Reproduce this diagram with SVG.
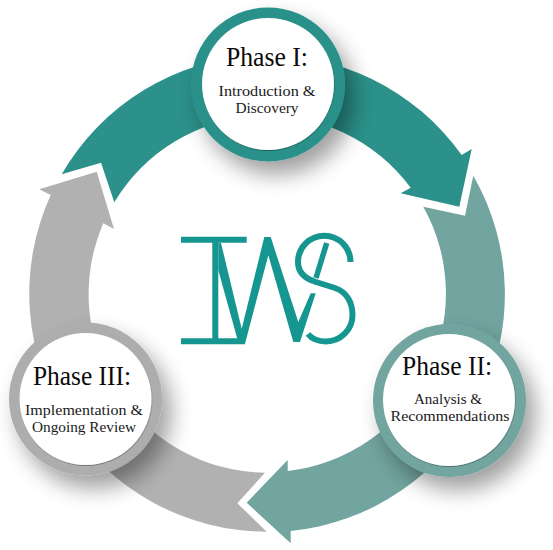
<svg xmlns="http://www.w3.org/2000/svg" width="553" height="550" viewBox="0 0 553 550">
<defs>
<filter id="sh" x="-40%" y="-40%" width="190%" height="190%"><feGaussianBlur in="SourceAlpha" stdDeviation="11"/><feOffset dx="9" dy="13"/><feComponentTransfer><feFuncA type="linear" slope="0.38"/></feComponentTransfer><feMerge><feMergeNode/><feMergeNode in="SourceGraphic"/></feMerge></filter>
<filter id="in" x="-10%" y="-10%" width="120%" height="120%"><feDropShadow dx="0.4" dy="0.8" stdDeviation="0.7" flood-color="#000" flood-opacity="0.4"/></filter>
</defs>
<style>
.t{font-family:"Liberation Serif",serif;fill:#0a0a0a;text-anchor:middle}
.h{font-size:27px}.s{font-size:14.5px;fill:#1a1a1a}
.inner{fill:#fff;filter:url(#in)}
.lg{fill:none;stroke:#159690}
</style>
<g id="connectors">
<path id="arrow1" fill="#2b918a" d="M61.7 174.3 A238 238 0 0 1 461.7 155 L471.7 149 L459.3 206.7 L400.7 193.3 L410.7 187.7 A178.5 178.5 0 0 0 114.3 202.3 L101 162.7 Z"/>
<path id="arrow2" fill="#72a4a0" d="M473.3 175.7 A238 238 0 0 1 290.7 531 L290.7 543.3 L246.7 502.7 L287.7 460 L287.7 471 A178.5 178.5 0 0 0 423.3 206.7 L465 215.7 Z"/>
<path id="arrow3" fill="#b1b1b1" d="M266.7 531.7 A238 238 0 0 1 50.7 195 L39.3 189.3 L96.7 171.7 L114 229 L103.3 223.3 A178.5 178.5 0 0 0 265 472.7 L237.3 503.3 Z"/>
</g>
<g id="node-phase1">
<circle cx="268" cy="84.5" r="77" fill="#2b918a" filter="url(#sh)"/>
<circle class="inner" cx="268" cy="84" r="66"/>
<text class="t h" x="267" y="66" textLength="82" lengthAdjust="spacingAndGlyphs">Phase I:</text>
<text class="t s" x="267" y="96" textLength="97" lengthAdjust="spacingAndGlyphs">Introduction &amp;</text>
<text class="t s" x="267" y="113" textLength="63" lengthAdjust="spacingAndGlyphs">Discovery</text>
</g>
<g id="node-phase2">
<circle cx="449.5" cy="400.5" r="76.5" fill="#72a4a0" filter="url(#sh)"/>
<circle class="inner" cx="449" cy="400" r="66"/>
<text class="t h" x="447" y="375" textLength="90" lengthAdjust="spacingAndGlyphs">Phase II:</text>
<text class="t s" x="448" y="404" textLength="68" lengthAdjust="spacingAndGlyphs">Analysis &amp;</text>
<text class="t s" x="450" y="421" textLength="119" lengthAdjust="spacingAndGlyphs">Recommendations</text>
</g>
<g id="node-phase3">
<circle cx="85.5" cy="399" r="76.5" fill="#adadad" filter="url(#sh)"/>
<circle class="inner" cx="85.5" cy="399" r="66"/>
<text class="t h" x="82" y="385" textLength="98" lengthAdjust="spacingAndGlyphs">Phase III:</text>
<text class="t s" x="84" y="415" textLength="118" lengthAdjust="spacingAndGlyphs">Implementation &amp;</text>
<text class="t s" x="84" y="432" textLength="104" lengthAdjust="spacingAndGlyphs">Ongoing Review</text>
</g>
<g id="logo">
<path fill="#159690" d="M181 236.7H246.7V242.7H181ZM181 338.3H245V344.3H181ZM212.3 242H218.3V339H212.3Z"/>
<polygon fill="#159690" points="218.3,243 221,243 241.7,328.7 264.3,237 270.7,237 298.3,322 310.7,293.3 315.7,293.3 300,342 293.3,342 268.3,255.3 245,343.7 237.3,338.7 218.3,270.3"/>
<path class="lg" stroke-width="6" d="M350.5 262 A26 26 0 0 0 298 262 C298 273 306 279 316 282 L335 288 C347 292 352.5 303 352.5 315 A26.5 26.5 0 0 1 326 341.5 C319 341.5 312 339 308 334"/>
<path class="lg" stroke-width="5.5" d="M326.7 243 L316 278"/>
</g>
</svg>
